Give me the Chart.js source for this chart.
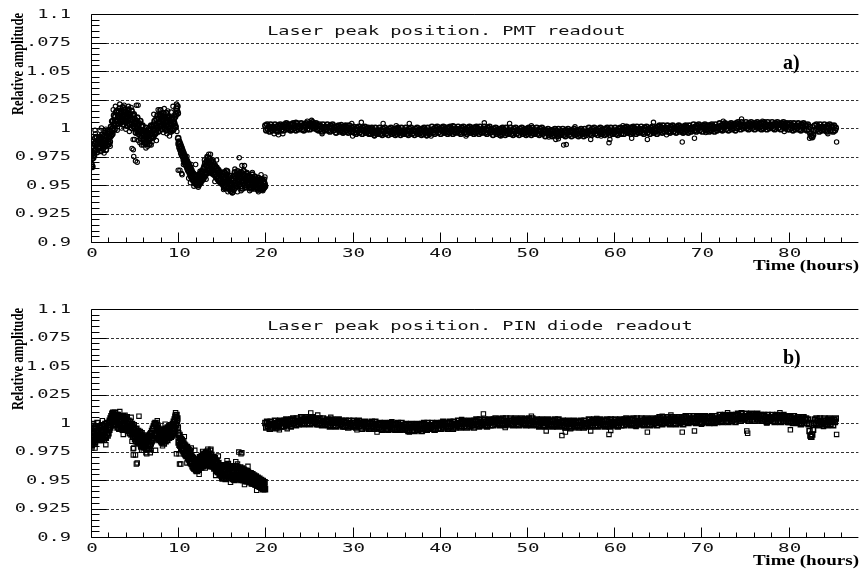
<!DOCTYPE html>
<html>
<head>
<meta charset="utf-8">
<script src="https://cdn.jsdelivr.net/npm/chart.js@4.4.1/dist/chart.umd.min.js"></script>
<style>
html, body { margin: 0; padding: 0; background: #fff; overflow: hidden; }
#wrap { width: 861px; height: 576px; overflow: hidden; }
canvas { display: block; }
</style>
</head>
<body>
<div id="wrap">
  <canvas id="pmtCanvas" width="864" height="290"></canvas>
  <canvas id="pinCanvas" width="864" height="286"></canvas>
</div>
<script>
// measurement times (hours) of the first run, shared by both readouts
const earlyTime = [
  0,0.05,0.1,0.15,0.2,0.25,0.3,0.35,0.4,0.45,0.5,0.55,0.6,0.65,0.7,0.75,0.8,0.85,0.9,0.95,
  1,1.05,1.1,1.15,1.2,1.25,1.3,1.35,1.4,1.45,1.5,1.55,1.6,1.65,1.7,1.75,1.8,1.85,1.9,1.95,
  2,2.05,2.1,2.15,2.2,2.25,2.3,2.35,2.4,2.45,2.5,2.55,2.6,2.65,2.7,2.75,2.8,2.85,2.9,2.95,
  3,3.05,3.1,3.15,3.2,3.25,3.3,3.35,3.4,3.45,3.5,3.55,3.6,3.65,3.7,3.75,3.8,3.85,3.9,3.95,
  4,4.05,4.1,4.15,4.2,4.25,4.3,4.35,4.4,4.45,4.5,4.55,4.6,4.65,4.7,4.75,4.8,4.85,4.9,4.95,
  5,5.05,5.1,5.15,5.2,5.25,5.3,5.35,5.4,5.45,5.5,5.55,5.6,5.65,5.7,5.75,5.8,5.85,5.9,5.95,
  6,6.05,6.1,6.15,6.2,6.25,6.3,6.35,6.4,6.45,6.5,6.55,6.6,6.65,6.7,6.75,6.8,6.85,6.9,6.95,
  7,7.05,7.1,7.15,7.2,7.25,7.3,7.35,7.4,7.45,7.5,7.55,7.6,7.65,7.7,7.75,7.8,7.85,7.9,7.95,
  8,8.05,8.1,8.15,8.2,8.25,8.3,8.35,8.4,8.45,8.5,8.55,8.6,8.65,8.7,8.75,8.8,8.85,8.9,8.95,
  9,9.05,9.1,9.15,9.2,9.25,9.3,9.35,9.4,9.45,9.5,9.55,9.6,9.65,9.7,9.75,9.8,9.85,9.9,9.95,
  10,10.05,10.1,10.15,10.2,10.25,10.3,10.35,10.4,10.45,10.5,10.55,10.6,10.65,10.7,10.75,10.8,10.85,10.9,10.95,
  11,11.05,11.1,11.15,11.2,11.25,11.3,11.35,11.4,11.45,11.5,11.55,11.6,11.65,11.7,11.75,11.8,11.85,11.9,11.95,
  12,12.05,12.1,12.15,12.2,12.25,12.3,12.35,12.4,12.45,12.5,12.55,12.6,12.65,12.7,12.75,12.8,12.85,12.9,12.95,
  13,13.05,13.1,13.15,13.2,13.25,13.3,13.35,13.4,13.45,13.5,13.55,13.6,13.65,13.7,13.75,13.8,13.85,13.9,13.95,
  14,14.05,14.1,14.15,14.2,14.25,14.3,14.35,14.4,14.45,14.5,14.55,14.6,14.65,14.7,14.75,14.8,14.85,14.9,14.95,
  15,15.05,15.1,15.15,15.2,15.25,15.3,15.35,15.4,15.45,15.5,15.55,15.6,15.65,15.7,15.75,15.8,15.85,15.9,15.95,
  16,16.05,16.1,16.15,16.2,16.25,16.3,16.35,16.4,16.45,16.5,16.55,16.6,16.65,16.7,16.75,16.8,16.85,16.9,16.95,
  17,17.05,17.1,17.15,17.2,17.25,17.3,17.35,17.4,17.45,17.5,17.55,17.6,17.65,17.7,17.75,17.8,17.85,17.9,17.95,
  18,18.05,18.1,18.15,18.2,18.25,18.3,18.35,18.4,18.45,18.5,18.55,18.6,18.65,18.7,18.75,18.8,18.85,18.9,18.95,
  19,19.05,19.1,19.15,19.2,19.25,19.3,19.35,19.4,19.45,19.5,19.55,19.6,19.65,19.7,19.75,19.8,19.85,19.9,19.95
];

// measurement times (hours) of the second run
const lateTime = [
  20,20.1,20.2,20.3,20.4,20.5,20.6,20.7,20.8,20.9, 21,21.1,21.2,21.3,21.4,21.5,21.6,21.7,21.8,21.9,
  22,22.1,22.2,22.3,22.4,22.5,22.6,22.7,22.8,22.9, 23,23.1,23.2,23.3,23.4,23.5,23.6,23.7,23.8,23.9,
  24,24.1,24.2,24.3,24.4,24.5,24.6,24.7,24.8,24.9, 25,25.1,25.2,25.3,25.4,25.5,25.6,25.7,25.8,25.9,
  26,26.1,26.2,26.3,26.4,26.5,26.6,26.7,26.8,26.9, 27,27.1,27.2,27.3,27.4,27.5,27.6,27.7,27.8,27.9,
  28,28.1,28.2,28.3,28.4,28.5,28.6,28.7,28.8,28.9, 29,29.1,29.2,29.3,29.4,29.5,29.6,29.7,29.8,29.9,
  30,30.1,30.2,30.3,30.4,30.5,30.6,30.7,30.8,30.9, 31,31.1,31.2,31.3,31.4,31.5,31.6,31.7,31.8,31.9,
  32,32.1,32.2,32.3,32.4,32.5,32.6,32.7,32.8,32.9, 33,33.1,33.2,33.3,33.4,33.5,33.6,33.7,33.8,33.9,
  34,34.1,34.2,34.3,34.4,34.5,34.6,34.7,34.8,34.9, 35,35.1,35.2,35.3,35.4,35.5,35.6,35.7,35.8,35.9,
  36,36.1,36.2,36.3,36.4,36.5,36.6,36.7,36.8,36.9, 37,37.1,37.2,37.3,37.4,37.5,37.6,37.7,37.8,37.9,
  38,38.1,38.2,38.3,38.4,38.5,38.6,38.7,38.8,38.9, 39,39.1,39.2,39.3,39.4,39.5,39.6,39.7,39.8,39.9,
  40,40.1,40.2,40.3,40.4,40.5,40.6,40.7,40.8,40.9, 41,41.1,41.2,41.3,41.4,41.5,41.6,41.7,41.8,41.9,
  42,42.1,42.2,42.3,42.4,42.5,42.6,42.7,42.8,42.9, 43,43.1,43.2,43.3,43.4,43.5,43.6,43.7,43.8,43.9,
  44,44.1,44.2,44.3,44.4,44.5,44.6,44.7,44.8,44.9, 45,45.1,45.2,45.3,45.4,45.5,45.6,45.7,45.8,45.9,
  46,46.1,46.2,46.3,46.4,46.5,46.6,46.7,46.8,46.9, 47,47.1,47.2,47.3,47.4,47.5,47.6,47.7,47.8,47.9,
  48,48.1,48.2,48.3,48.4,48.5,48.6,48.7,48.8,48.9, 49,49.1,49.2,49.3,49.4,49.5,49.6,49.7,49.8,49.9,
  50,50.1,50.2,50.3,50.4,50.5,50.6,50.7,50.8,50.9, 51,51.1,51.2,51.3,51.4,51.5,51.6,51.7,51.8,51.9,
  52,52.1,52.2,52.3,52.4,52.5,52.6,52.7,52.8,52.9, 53,53.1,53.2,53.3,53.4,53.5,53.6,53.7,53.8,53.9,
  54,54.1,54.2,54.3,54.4,54.5,54.6,54.7,54.8,54.9, 55,55.1,55.2,55.3,55.4,55.5,55.6,55.7,55.8,55.9,
  56,56.1,56.2,56.3,56.4,56.5,56.6,56.7,56.8,56.9, 57,57.1,57.2,57.3,57.4,57.5,57.6,57.7,57.8,57.9,
  58,58.1,58.2,58.3,58.4,58.5,58.6,58.7,58.8,58.9, 59,59.1,59.2,59.3,59.4,59.5,59.6,59.7,59.8,59.9,
  60,60.1,60.2,60.3,60.4,60.5,60.6,60.7,60.8,60.9, 61,61.1,61.2,61.3,61.4,61.5,61.6,61.7,61.8,61.9,
  62,62.1,62.2,62.3,62.4,62.5,62.6,62.7,62.8,62.9, 63,63.1,63.2,63.3,63.4,63.5,63.6,63.7,63.8,63.9,
  64,64.1,64.2,64.3,64.4,64.5,64.6,64.7,64.8,64.9, 65,65.1,65.2,65.3,65.4,65.5,65.6,65.7,65.8,65.9,
  66,66.1,66.2,66.3,66.4,66.5,66.6,66.7,66.8,66.9, 67,67.1,67.2,67.3,67.4,67.5,67.6,67.7,67.8,67.9,
  68,68.1,68.2,68.3,68.4,68.5,68.6,68.7,68.8,68.9, 69,69.1,69.2,69.3,69.4,69.5,69.6,69.7,69.8,69.9,
  70,70.1,70.2,70.3,70.4,70.5,70.6,70.7,70.8,70.9, 71,71.1,71.2,71.3,71.4,71.5,71.6,71.7,71.8,71.9,
  72,72.1,72.2,72.3,72.4,72.5,72.6,72.7,72.8,72.9, 73,73.1,73.2,73.3,73.4,73.5,73.6,73.7,73.8,73.9,
  74,74.1,74.2,74.3,74.4,74.5,74.6,74.7,74.8,74.9, 75,75.1,75.2,75.3,75.4,75.5,75.6,75.7,75.8,75.9,
  76,76.1,76.2,76.3,76.4,76.5,76.6,76.7,76.8,76.9, 77,77.1,77.2,77.3,77.4,77.5,77.6,77.7,77.8,77.9,
  78,78.1,78.2,78.3,78.4,78.5,78.6,78.7,78.8,78.9, 79,79.1,79.2,79.3,79.4,79.5,79.6,79.7,79.8,79.9,
  80,80.1,80.2,80.3,80.4,80.5,80.6,80.7,80.8,80.9, 81,81.1,81.2,81.3,81.4,81.5,81.6,81.7,81.8,81.9,
  82,82.1,82.2,82.3,82.4,82.5,82.6,82.7,82.8,82.9, 83,83.1,83.2,83.3,83.4,83.5,83.6,83.7,83.8,83.9,
  84,84.1,84.2,84.3,84.4,84.5,84.6,84.7,84.8,84.9, 85,85.1,85.2,85.3,85.4
];

// a) PMT readout, relative amplitude
const pmtEarly = [
  0.975,0.968,0.973,0.966,0.978,0.974,0.984,0.976,0.986,0.980, 0.991,0.981,0.987,0.992,0.979,0.986,0.989,0.982,0.990,0.984,
  0.992,0.983,0.988,0.980,0.991,0.986,0.994,0.982,0.989,0.985, 0.993,0.987,0.984,0.996,0.981,0.990,0.993,0.985,0.997,0.988,
  0.995,0.986,0.992,0.988,0.997,0.993,1.001,0.994,0.999,0.995, 1.006,1.000,1.003,1.011,0.999,1.006,1.010,1.003,1.014,1.006,
  1.015,1.006,1.011,1.004,1.014,1.009,1.017,1.006,1.012,1.005, 1.015,1.010,1.008,1.018,1.003,1.011,1.014,1.006,1.016,1.008,
  1.014,1.006,1.010,1.002,1.013,1.008,1.016,1.004,1.011,1.003, 1.012,1.007,1.005,1.015,1.000,1.008,1.011,1.002,1.012,1.004,
  1.008,1.000,1.004,0.996,1.006,1.002,1.009,0.997,1.003,0.995, 1.004,0.999,0.997,1.006,0.991,0.998,1.001,0.993,1.002,0.995,
  0.998,0.990,0.995,0.987,0.997,0.993,1.000,0.988,0.994,0.986, 0.996,0.991,0.989,0.999,0.986,0.994,0.998,0.991,1.002,0.995,
  1.001,0.993,0.999,0.992,1.003,0.998,1.006,0.995,1.002,0.996, 1.008,1.002,1.000,1.011,0.997,1.005,1.008,1.001,1.012,1.004,
  1.011,1.002,1.007,0.999,1.010,1.006,1.013,1.001,1.008,1.000, 1.010,1.005,1.003,1.013,0.998,1.006,1.009,1.001,1.010,1.003,
  1.007,0.999,1.004,0.997,1.008,1.003,1.009,0.998,1.005,0.999, 1.008,1.004,1.002,1.010,1.001,1.012,1.017,1.015,1.019,1.013,
  0.991,0.986,0.988,0.983,0.986,0.981,0.984,0.978,0.982,0.976, 0.980,0.975,0.978,0.972,0.976,0.970,0.974,0.968,0.972,0.967,
  0.971,0.965,0.969,0.963,0.968,0.962,0.966,0.960,0.965,0.958, 0.963,0.957,0.961,0.955,0.960,0.954,0.959,0.953,0.958,0.952,
  0.957,0.951,0.955,0.950,0.958,0.952,0.956,0.950,0.959,0.953, 0.957,0.952,0.960,0.954,0.962,0.956,0.961,0.955,0.964,0.957,
  0.966,0.959,0.969,0.961,0.967,0.960,0.971,0.963,0.974,0.965, 0.970,0.962,0.973,0.964,0.968,0.961,0.971,0.963,0.967,0.960,
  0.969,0.961,0.966,0.959,0.967,0.960,0.964,0.957,0.965,0.958, 0.962,0.955,0.963,0.956,0.960,0.953,0.961,0.955,0.959,0.952,
  0.958,0.951,0.960,0.952,0.957,0.949,0.961,0.953,0.956,0.948, 0.959,0.951,0.962,0.954,0.957,0.947,0.955,0.949,0.958,0.950,
  0.952,0.945,0.955,0.947,0.950,0.944,0.954,0.946,0.958,0.950, 0.961,0.952,0.956,0.949,0.959,0.951,0.962,0.953,0.957,0.950,
  0.960,0.951,0.957,0.949,0.961,0.953,0.956,0.947,0.959,0.952, 0.962,0.954,0.958,0.950,0.955,0.948,0.960,0.952,0.957,0.951,
  0.958,0.950,0.955,0.948,0.957,0.951,0.954,0.947,0.956,0.950, 0.959,0.952,0.955,0.949,0.953,0.947,0.957,0.951,0.954,0.948,
  0.955,0.948,0.953,0.946,0.956,0.950,0.952,0.947,0.954,0.949, 0.951,0.946,0.955,0.949,0.952,0.947,0.953,0.948,0.951,0.949
];
const pmtLate = [
  1.002,0.998,1.003,0.999,1.001,0.997,1.003,1.000,0.998,1.001, 0.999,1.003,0.998,1.001,0.997,1.002,1.000,1.003,0.998,1.001,
  1.002,0.998,1.003,1.001,1.004,0.999,1.002,1.000,1.003,0.998, 1.003,0.999,1.004,1.000,1.002,0.998,1.004,1.001,0.999,1.002,
  1.000,1.004,0.999,1.002,0.998,1.003,1.001,1.004,0.999,1.002, 1.003,0.999,1.004,1.002,1.005,1.000,1.003,1.001,1.004,0.999,
  1.002,0.998,1.003,0.999,1.001,0.997,1.003,1.000,0.998,1.001, 0.999,1.003,0.998,1.001,0.997,1.002,1.000,1.003,0.998,1.001,
  1.000,0.996,1.001,0.999,1.002,0.997,1.000,0.998,1.001,0.996, 1.001,0.997,1.002,0.998,1.000,0.996,1.002,0.999,0.997,1.000,
  0.997,1.001,0.996,0.999,0.995,1.000,0.998,1.001,0.996,0.999, 0.999,0.995,1.000,0.998,1.001,0.996,0.999,0.997,1.000,0.995,
  0.999,0.995,1.000,0.996,0.998,0.994,1.000,0.997,0.995,0.998, 0.996,1.000,0.995,0.998,0.994,0.999,0.997,1.000,0.995,0.998,
  0.998,0.994,0.999,0.997,1.000,0.995,0.998,0.996,0.999,0.994, 0.999,0.995,1.000,0.996,0.998,0.994,1.000,0.997,0.995,0.998,
  0.996,1.000,0.995,0.998,0.994,0.999,0.997,1.000,0.995,0.998, 0.998,0.994,0.999,0.997,1.000,0.995,0.998,0.996,0.999,0.994,
  0.999,0.995,1.000,0.996,0.998,0.994,1.000,0.997,0.995,0.998, 0.997,1.001,0.996,0.999,0.995,1.000,0.998,1.001,0.996,0.999,
  0.999,0.995,1.000,0.998,1.001,0.996,0.999,0.997,1.000,0.995, 1.000,0.996,1.001,0.997,0.999,0.995,1.001,0.998,0.996,0.999,
  0.997,1.001,0.996,0.999,0.995,1.000,0.998,1.001,0.996,0.999, 0.999,0.995,1.000,0.998,1.001,0.996,0.999,0.997,1.000,0.995,
  1.000,0.996,1.001,0.997,0.999,0.995,1.001,0.998,0.996,0.999, 0.997,1.001,0.996,0.999,0.995,1.000,0.998,1.001,0.996,0.999,
  0.998,0.994,0.999,0.997,1.000,0.995,0.998,0.996,0.999,0.994, 0.999,0.995,1.000,0.996,0.998,0.994,1.000,0.997,0.995,0.998,
  0.996,1.000,0.995,0.998,0.994,0.999,0.997,1.000,0.995,0.998, 0.998,0.994,0.999,0.997,1.000,0.995,0.998,0.996,0.999,0.994,
  0.999,0.995,1.000,0.996,0.998,0.994,1.000,0.997,0.995,0.998, 0.996,1.000,0.995,0.998,0.994,0.999,0.997,1.000,0.995,0.998,
  0.997,0.993,0.998,0.996,0.999,0.994,0.997,0.995,0.998,0.993, 0.998,0.994,0.999,0.995,0.997,0.993,0.999,0.996,0.994,0.997,
  0.995,0.999,0.994,0.997,0.993,0.998,0.996,0.999,0.994,0.997, 0.997,0.993,0.998,0.996,0.999,0.994,0.997,0.995,0.998,0.993,
  0.998,0.994,0.999,0.995,0.997,0.993,0.999,0.996,0.994,0.997, 0.996,1.000,0.995,0.998,0.994,0.999,0.997,1.000,0.995,0.998,
  0.998,0.994,0.999,0.997,1.000,0.995,0.998,0.996,0.999,0.994, 0.999,0.995,1.000,0.996,0.998,0.994,1.000,0.997,0.995,0.998,
  0.996,1.000,0.995,0.998,0.994,0.999,0.997,1.000,0.995,0.998, 0.999,0.995,1.000,0.998,1.001,0.996,0.999,0.997,1.000,0.995,
  1.000,0.996,1.001,0.997,0.999,0.995,1.001,0.998,0.996,0.999, 0.997,1.001,0.996,0.999,0.995,1.000,0.998,1.001,0.996,0.999,
  0.999,0.995,1.000,0.998,1.001,0.996,0.999,0.997,1.000,0.995, 1.001,0.997,1.002,0.998,1.000,0.996,1.002,0.999,0.997,1.000,
  0.998,1.002,0.997,1.000,0.996,1.001,0.999,1.002,0.997,1.000, 1.000,0.996,1.001,0.999,1.002,0.997,1.000,0.998,1.001,0.996,
  1.001,0.997,1.002,0.998,1.000,0.996,1.002,0.999,0.997,1.000, 0.999,1.003,0.998,1.001,0.997,1.002,1.000,1.003,0.998,1.001,
  1.001,0.997,1.002,1.000,1.003,0.998,1.001,0.999,1.002,0.997, 1.002,0.998,1.003,0.999,1.001,0.997,1.003,1.000,0.998,1.001,
  1.000,1.004,0.999,1.002,0.998,1.003,1.001,1.004,0.999,1.002, 1.002,0.998,1.003,1.001,1.004,0.999,1.002,1.000,1.003,0.998,
  1.004,1.000,1.005,1.001,1.003,0.999,1.005,1.002,1.000,1.003, 1.001,1.005,1.000,1.003,0.999,1.004,1.002,1.005,1.000,1.003,
  1.003,0.999,1.004,1.002,1.005,1.000,1.003,1.001,1.004,0.999, 1.004,1.000,1.005,1.001,1.003,0.999,1.005,1.002,1.000,1.003,
  1.001,1.005,1.000,1.003,0.999,1.004,1.002,1.005,1.000,1.003, 1.003,0.999,1.004,1.002,1.005,1.000,1.003,1.001,1.004,0.999,
  1.003,0.999,1.004,1.000,1.002,0.998,1.004,1.001,0.999,1.002, 1.000,1.004,0.999,1.002,0.998,1.003,1.001,1.004,0.999,1.002,
  1.002,0.998,1.003,0.999,1.001,0.995,0.993,0.992,0.994,0.998, 1.002,0.998,1.003,0.999,1.001,0.997,1.003,1.000,0.998,1.001,
  0.999,1.003,0.998,1.001,0.997,1.002,1.000,1.003,0.998,1.001, 1.001,0.997,1.002,0.998,1.000
];

// b) PIN diode readout, relative amplitude
const pinEarly = [
  0.985,0.996,0.981,0.993,0.988,0.999,0.984,0.991,0.995,0.983, 0.990,0.997,0.986,0.993,0.989,1.000,0.985,0.994,0.988,0.996,
  0.987,0.996,0.985,0.993,0.990,0.998,0.986,0.994,0.989,0.997, 0.985,0.992,0.988,0.999,0.987,0.995,0.991,1.000,0.989,0.996,
  0.991,1.000,0.994,1.002,0.996,1.004,0.998,1.006,1.001,1.008, 1.003,1.009,0.999,1.007,1.002,1.009,0.998,1.006,1.001,1.007,
  1.004,0.996,1.007,0.998,1.005,0.995,1.006,0.999,1.003,0.995, 1.005,0.997,1.002,0.994,1.006,0.998,1.003,0.995,1.004,0.996,
  1.003,0.995,1.005,0.996,1.001,0.993,1.002,0.994,0.999,0.991, 1.001,0.993,0.997,0.990,0.999,0.991,0.996,0.988,0.998,0.990,
  0.994,0.986,0.992,0.984,0.995,0.987,0.991,0.983,0.993,0.985, 0.990,0.982,0.992,0.984,0.989,0.981,0.991,0.983,0.988,0.980,
  0.987,0.979,0.989,0.981,0.986,0.978,0.988,0.980,0.985,0.977, 0.987,0.980,0.984,0.977,0.988,0.981,0.990,0.982,0.991,0.984,
  0.993,0.985,0.995,0.987,0.997,0.989,0.999,0.990,1.000,0.991, 0.998,0.989,0.996,0.987,0.995,0.986,0.993,0.985,0.994,0.986,
  0.992,0.984,0.991,0.983,0.993,0.985,0.990,0.982,0.994,0.986, 0.992,0.984,0.995,0.987,0.993,0.985,0.996,0.988,0.994,0.987,
  0.997,0.989,0.995,0.988,0.998,0.990,0.996,0.989,0.999,0.991, 1.001,0.993,1.003,0.995,1.005,0.998,1.007,1.002,1.004,0.996,
  0.991,0.983,0.989,0.981,0.987,0.980,0.986,0.978,0.985,0.977, 0.984,0.976,0.982,0.975,0.981,0.973,0.980,0.972,0.978,0.971,
  0.979,0.971,0.977,0.969,0.976,0.968,0.974,0.966,0.973,0.965, 0.971,0.964,0.970,0.962,0.969,0.961,0.968,0.960,0.967,0.960,
  0.966,0.959,0.965,0.958,0.967,0.960,0.966,0.959,0.968,0.961, 0.970,0.962,0.969,0.961,0.971,0.963,0.970,0.962,0.972,0.964,
  0.973,0.964,0.971,0.963,0.974,0.965,0.972,0.964,0.975,0.966, 0.971,0.963,0.973,0.965,0.970,0.962,0.972,0.964,0.969,0.962,
  0.970,0.962,0.968,0.960,0.969,0.961,0.966,0.958,0.967,0.959, 0.964,0.957,0.965,0.957,0.962,0.955,0.963,0.956,0.961,0.954,
  0.961,0.953,0.963,0.955,0.960,0.952,0.962,0.954,0.959,0.951, 0.963,0.955,0.961,0.953,0.964,0.956,0.960,0.952,0.962,0.954,
  0.960,0.952,0.962,0.954,0.959,0.951,0.961,0.953,0.958,0.950, 0.960,0.952,0.962,0.954,0.959,0.951,0.961,0.953,0.958,0.951,
  0.959,0.951,0.961,0.953,0.958,0.950,0.960,0.952,0.957,0.950, 0.959,0.951,0.958,0.950,0.956,0.949,0.958,0.951,0.956,0.949,
  0.957,0.950,0.956,0.949,0.955,0.948,0.956,0.949,0.954,0.947, 0.955,0.948,0.953,0.947,0.954,0.947,0.952,0.946,0.953,0.946,
  0.951,0.946,0.952,0.945,0.950,0.945,0.951,0.944,0.949,0.944, 0.950,0.943,0.948,0.943,0.949,0.942,0.947,0.943,0.948,0.942
];
const pinLate = [
  1.000,0.996,1.001,0.997,0.999,0.995,1.001,0.998,0.996,0.999, 0.998,1.002,0.997,1.000,0.996,1.001,0.999,1.002,0.997,1.000,
  1.001,0.997,1.002,1.000,1.003,0.998,1.001,0.999,1.002,0.997, 1.003,0.999,1.004,1.000,1.002,0.998,1.004,1.001,0.999,1.002,
  1.001,1.005,1.000,1.003,0.999,1.004,1.002,1.005,1.000,1.003, 1.003,0.999,1.004,1.002,1.005,1.000,1.003,1.001,1.004,0.999,
  1.003,0.999,1.004,1.000,1.002,0.998,1.004,1.001,0.999,1.002, 0.999,1.003,0.998,1.001,0.997,1.002,1.000,1.003,0.998,1.001,
  1.001,0.997,1.002,1.000,1.003,0.998,1.001,0.999,1.002,0.997, 1.001,0.997,1.002,0.998,1.000,0.996,1.002,0.999,0.997,1.000,
  0.998,1.002,0.997,1.000,0.996,1.001,0.999,1.002,0.997,1.000, 0.999,0.995,1.000,0.998,1.001,0.996,0.999,0.997,1.000,0.995,
  1.000,0.996,1.001,0.997,0.999,0.995,1.001,0.998,0.996,0.999, 0.996,1.000,0.995,0.998,0.994,0.999,0.997,1.000,0.995,0.998,
  0.998,0.994,0.999,0.997,1.000,0.995,0.998,0.996,0.999,0.994, 0.999,0.995,1.000,0.996,0.998,0.994,1.000,0.997,0.995,0.998,
  0.995,0.999,0.994,0.997,0.993,0.998,0.996,0.999,0.994,0.997, 0.997,0.993,0.998,0.996,0.999,0.994,0.997,0.995,0.998,0.993,
  0.999,0.995,1.000,0.996,0.998,0.994,1.000,0.997,0.995,0.998, 0.996,1.000,0.995,0.998,0.994,0.999,0.997,1.000,0.995,0.998,
  0.999,0.995,1.000,0.998,1.001,0.996,0.999,0.997,1.000,0.995, 1.000,0.996,1.001,0.997,0.999,0.995,1.001,0.998,0.996,0.999,
  0.998,1.002,0.997,1.000,0.996,1.001,0.999,1.002,0.997,1.000, 1.000,0.996,1.001,0.999,1.002,0.997,1.000,0.998,1.001,0.996,
  1.002,0.998,1.003,0.999,1.001,0.997,1.003,1.000,0.998,1.001, 0.999,1.003,0.998,1.001,0.997,1.002,1.000,1.003,0.998,1.001,
  1.002,0.998,1.003,1.001,1.004,0.999,1.002,1.000,1.003,0.998, 1.003,0.999,1.004,1.000,1.002,0.998,1.004,1.001,0.999,1.002,
  1.000,1.004,0.999,1.002,0.998,1.003,1.001,1.004,0.999,1.002, 1.002,0.998,1.003,1.001,1.004,0.999,1.002,1.000,1.003,0.998,
  1.003,0.999,1.004,1.000,1.002,0.998,1.004,1.001,0.999,1.002, 0.999,1.003,0.998,1.001,0.997,1.002,1.000,1.003,0.998,1.001,
  1.001,0.997,1.002,1.000,1.003,0.998,1.001,0.999,1.002,0.997, 1.002,0.998,1.003,0.999,1.001,0.997,1.003,1.000,0.998,1.001,
  0.998,1.002,0.997,1.000,0.996,1.001,0.999,1.002,0.997,1.000, 1.000,0.996,1.001,0.999,1.002,0.997,1.000,0.998,1.001,0.996,
  1.001,0.997,1.002,0.998,1.000,0.996,1.002,0.999,0.997,1.000, 0.999,1.003,0.998,1.001,0.997,1.002,1.000,1.003,0.998,1.001,
  1.001,0.997,1.002,1.000,1.003,0.998,1.001,0.999,1.002,0.997, 1.002,0.998,1.003,0.999,1.001,0.997,1.003,1.000,0.998,1.001,
  0.999,1.003,0.998,1.001,0.997,1.002,1.000,1.003,0.998,1.001, 1.002,0.998,1.003,1.001,1.004,0.999,1.002,1.000,1.003,0.998,
  1.003,0.999,1.004,1.000,1.002,0.998,1.004,1.001,0.999,1.002, 1.000,1.004,0.999,1.002,0.998,1.003,1.001,1.004,0.999,1.002,
  1.002,0.998,1.003,1.001,1.004,0.999,1.002,1.000,1.003,0.998, 1.004,1.000,1.005,1.001,1.003,0.999,1.005,1.002,1.000,1.003,
  1.001,1.005,1.000,1.003,0.999,1.004,1.002,1.005,1.000,1.003, 1.003,0.999,1.004,1.002,1.005,1.000,1.003,1.001,1.004,0.999,
  1.005,1.001,1.006,1.002,1.004,1.000,1.006,1.003,1.001,1.004, 1.002,1.006,1.001,1.004,1.000,1.005,1.003,1.006,1.001,1.004,
  1.004,1.000,1.005,1.003,1.006,1.001,1.004,1.002,1.005,1.000, 1.005,1.001,1.006,1.002,1.004,1.000,1.006,1.003,1.001,1.004,
  1.003,1.007,1.002,1.005,1.001,1.006,1.004,1.007,1.002,1.005, 1.005,1.001,1.006,1.004,1.007,1.002,1.005,1.003,1.006,1.001,
  1.007,1.003,1.008,1.004,1.006,1.002,1.008,1.005,1.003,1.006, 1.004,1.008,1.003,1.006,1.002,1.007,1.005,1.008,1.003,1.006,
  1.006,1.002,1.007,1.005,1.008,1.003,1.006,1.004,1.007,1.002, 1.006,1.002,1.007,1.003,1.005,1.001,1.007,1.004,1.002,1.005,
  1.003,1.007,1.002,1.005,1.001,1.006,1.004,1.007,1.002,1.005, 1.005,1.001,1.006,1.004,1.007,1.002,1.005,1.003,1.006,1.001,
  1.005,1.001,1.006,1.002,1.004,1.000,1.006,1.003,1.001,1.004, 1.001,1.005,1.000,1.003,0.999,1.004,1.002,1.005,1.000,1.003,
  1.004,1.000,1.003,0.999,0.993,0.989,0.988,0.990,0.994,1.000, 1.003,0.999,1.004,1.000,1.002,0.998,1.004,1.001,0.999,1.002,
  1.000,1.004,0.999,1.002,0.998,1.003,1.001,1.004,0.999,1.002, 1.002,0.998,1.003,1.001,1.004
];

// isolated readings off / at the edge of the main band
const pmtStrayTime = [
  0.05,4.7,4.9,5.1,5.3,5.4,5.6,6.0,8.0,9.8,10.2,10.4,13.5,15.2,16.8,17.0,17.3,17.9,19.9,
  0.46,1.03,2.36,2.55,4.83,4.85,5.2,5.4,5.8,6.3,6.9,7.5,7.9,8.1,9.4,9.85,10.0,10.45,11.4,12.0,13.3,13.7,14.4,15.3,17.6,19.95,
  0.5,1.2,1.7,2.8,3.3,3.8,4.3,4.6,7.2,7.7,8.4,8.8,9.2,11.0,11.5,12.5,13.0,14.0,15.5,16.5,17.5,18.5,19.5,
  1.5,2.2,3.0,3.5,4.0,4.4,5.0,6.5,7.0,8.3,8.7,9.0,10.6,11.2,11.8,12.3,13.2,14.2,15.7,16.2,17.2,18.2,19.2,19.7,
  21.5,22.0,24.8,25.3,29.9,30.0,31.0,33.5,36.5,39.0,45.1,48.0,53.3,53.6,54.2,54.5,57.3,59.4,59.5,62.0,63.8,64.5,67.8,69.2,74.6,82.4,85.5,
  21.0,23.5,26.5,28.7,32.5,35.0,38.5,41.5,43.0,47.0,50.5,52.5,55.5,58.5,61.0,66.0,70.5,72.5,77.0,79.5,84.5
];
const pmtStrayAmp = [
  0.966,0.982,0.975,0.971,0.970,1.020,0.987,0.985,1.016,1.021,0.963,0.960,0.977,0.946,0.944,0.974,0.967,0.961,0.955,
  0.998,0.998,1.006,1.016,0.990,0.981,1.020,0.989,0.985,0.9825,0.985,0.989,1.016,1.013,1.019,0.997,0.963,0.959,0.952,0.968,0.975,0.977,0.972,0.947,0.967,0.957,
  0.995,1.000,0.999,1.019,1.021,1.020,1.019,1.018,1.012,1.016,1.017,1.015,1.014,0.975,0.968,0.962,0.972,0.972,0.963,0.964,0.963,0.961,0.959,
  0.978,0.984,0.998,1.000,0.999,0.997,0.990,0.984,0.988,0.996,0.995,0.993,0.968,0.956,0.949,0.948,0.955,0.953,0.944,0.943,0.945,0.945,0.944,0.945,
  0.994,0.995,1.006,1.0067,1.004,0.993,1.005,1.004,1.004,0.993,1.0045,1.004,0.990,0.9905,0.985,0.9855,0.990,0.987,0.990,0.991,0.990,1.005,0.9877,0.991,1.008,0.991,0.9877,
  0.995,1.005,0.995,1.003,0.993,1.002,0.993,1.002,0.993,0.993,1.002,0.992,1.001,0.993,1.002,0.994,0.996,1.006,1.006,0.997,0.995
];
const pinStrayTime = [
  0.1,0.15,2.4,4.9,5.1,5.3,5.8,6.3,6.8,9.7,9.75,10.1,10.3,12.0,13.7,15.0,17.2,17.3,
  0.46,0.5,2.55,3.9,4.83,4.85,5.2,5.5,5.7,6.0,6.8,7.4,7.7,9.65,10.2,9.8,10.15,11.9,13.1,13.75,15.1,16.95,16.8,18.5,
  1.3,3.3,4.6,7.6,8.5,10.7,11.5,12.8,13.4,14.6,15.6,16.6,18.0,
  1.7,3.7,4.7,6.4,8.2,11.0,12.4,14.3,16.0,17.6,19.0,
  21.2,21.6,25.2,26.0,32.8,36.5,45.0,52.2,54.0,54.4,57.3,59.4,59.6,63.8,65.5,67.8,69.2,74.6,75.2,75.3,80.2,85.5,
  22.5,27.5,30.5,34.5,38.0,42.5,47.5,50.5,55.0,58.0,62.5,66.5,70.0,73.0,77.5,79.0,84.0
];
const pinStrayAmp = [
  0.978,0.980,1.004,0.978,0.972,0.965,0.976,0.974,0.979,1.009,1.007,0.973,0.964,0.958,0.976,0.951,0.973,0.974,
  0.978,0.983,1.0088,1.0068,0.9775,0.972,0.964,1.006,0.979,0.976,0.974,0.976,0.998,1.0068,0.990,0.973,0.964,0.976,0.9605,0.977,0.951,0.9745,0.964,0.947,
  1.002,1.010,1.005,1.002,0.999,0.988,0.978,0.975,0.977,0.971,0.967,0.966,0.962,
  0.981,0.990,0.984,0.973,0.980,0.965,0.955,0.954,0.948,0.946,0.941,
  0.995,0.994,1.0088,1.007,0.992,0.992,1.008,0.993,0.989,0.992,0.993,0.990,0.9935,0.992,1.006,0.992,0.993,1.009,0.993,0.991,0.994,0.990,
  0.995,1.005,0.994,1.001,0.993,1.003,0.996,1.006,0.995,1.004,0.997,1.007,0.999,1.009,1.000,1.009,0.997
];

// axis decorations
const xMajorTicks = [0,10,20,30,40,50,60,70,80];
const xMinorTicks = [2,4,6,8,12,14,16,18,22,24,26,28,32,34,36,38,42,44,46,48,52,54,56,58,62,64,66,68,72,74,76,78,82,84,86];
const yMajorTicks = [0.9,0.925,0.95,0.975,1,1.025,1.05,1.075,1.1];
const yTickLabels = ['0.9','0.925','0.95','0.975','1','.025','1.05','.075','1.1'];

const MONO = '"DejaVu Sans Mono", monospace';
const SERIF = '"Liberation Serif", "Times New Roman", serif';

function wideText(ctx, text, x, y, align, size, sx) {
  ctx.save();
  ctx.font = size + 'px ' + MONO;
  ctx.fillStyle = '#111';
  ctx.textBaseline = 'middle';
  ctx.textAlign = align;
  ctx.translate(x, y);
  ctx.scale(sx, 1);
  ctx.fillText(text, 0, 0);
  ctx.restore();
}

// bold serif text squeezed or stretched to a given width
function fitText(ctx, text, size, width) {
  ctx.font = 'bold ' + size + 'px ' + SERIF;
  const w = ctx.measureText(text).width;
  ctx.scale(width / w, 1);
  ctx.fillText(text, 0, 0);
}

const rootFrame = {
  id: 'rootFrame',
  beforeDatasetsDraw(chart) {
    const { ctx, chartArea: a, scales: { y } } = chart;
    ctx.save();
    ctx.strokeStyle = '#333';
    ctx.lineWidth = 1;
    ctx.setLineDash([3, 2]);
    yMajorTicks.slice(1, -1).forEach(v => {
      const py = Math.round(y.getPixelForValue(v)) + 0.5;
      ctx.beginPath();
      ctx.moveTo(a.left, py);
      ctx.lineTo(a.right, py);
      ctx.stroke();
    });
    ctx.restore();
  },
  afterDraw(chart, args, opts) {
    const { ctx, chartArea: a, scales: { x, y } } = chart;
    const L = a.left + 0.5, B = Math.round(a.bottom) + 0.5, T = Math.round(a.top) + 0.5;
    ctx.save();
    ctx.strokeStyle = '#000';
    ctx.lineWidth = 1;
    ctx.beginPath();
    ctx.moveTo(a.right, T); ctx.lineTo(L, T); ctx.lineTo(L, B); ctx.lineTo(a.right, B);
    // x ticks, pointing up into the frame
    xMajorTicks.forEach(v => { const px = Math.round(x.getPixelForValue(v)) + 0.5; ctx.moveTo(px, B); ctx.lineTo(px, B - 10); });
    xMinorTicks.forEach(v => { const px = Math.round(x.getPixelForValue(v)) + 0.5; ctx.moveTo(px, B); ctx.lineTo(px, B - 5); });
    // y ticks, pointing right into the frame
    for (let i = 0; i < yMajorTicks.length; i++) {
      const py = Math.round(y.getPixelForValue(yMajorTicks[i])) + 0.5;
      ctx.moveTo(L, py); ctx.lineTo(L + 15, py);
      if (i < yMajorTicks.length - 1) {
        for (let k = 1; k < 5; k++) {
          const v = yMajorTicks[i] + (yMajorTicks[i + 1] - yMajorTicks[i]) * k / 5;
          const pm = Math.round(y.getPixelForValue(v)) + 0.5;
          ctx.moveTo(L, pm); ctx.lineTo(L + 8, pm);
        }
      }
    }
    ctx.stroke();
    ctx.restore();

    yMajorTicks.forEach((v, i) => wideText(ctx, yTickLabels[i], a.left - 20, y.getPixelForValue(v) + 0.5, 'right', 12, 1.56));
    xMajorTicks.forEach(v => wideText(ctx, String(v), x.getPixelForValue(v) + 1, a.bottom + 12, 'center', 12, 1.6));
    wideText(ctx, opts.caption, x.getPixelForValue(20.2), a.top + 18, 'left', 12, 1.55);

    ctx.save();
    ctx.fillStyle = '#000';
    ctx.textBaseline = 'alphabetic';
    ctx.font = 'bold 20px ' + SERIF;
    ctx.fillText(opts.tag, 783, a.top + 55);
    ctx.restore();

    ctx.save();
    ctx.fillStyle = '#000';
    ctx.textBaseline = 'alphabetic';
    ctx.textAlign = 'right';
    ctx.translate(859, a.bottom + 28);
    fitText(ctx, 'Time (hours)', 15, 106);
    ctx.restore();

    ctx.save();
    ctx.fillStyle = '#000';
    ctx.textBaseline = 'alphabetic';
    ctx.textAlign = 'center';
    ctx.translate(23, a.top + 50);
    ctx.rotate(-Math.PI / 2);
    fitText(ctx, 'Relative amplitude', 17, 102);
    ctx.restore();
  }
};

function makePanel(canvasId, early, late, strayTime, strayAmp, style, radius, caption, tag, padTop, padBottom) {
  const band = earlyTime.map((t, i) => ({ x: t, y: early[i] }))
    .concat(lateTime.map((t, i) => ({ x: t, y: late[i] })));
  const stray = strayTime.map((t, i) => ({ x: t, y: strayAmp[i] }));
  const common = {
    pointStyle: style,
    pointBorderColor: '#000',
    pointBackgroundColor: 'rgba(0,0,0,0)',
    showLine: false
  };
  return new Chart(document.getElementById(canvasId), {
    type: 'scatter',
    data: {
      datasets: [
        { data: band, pointRadius: radius + 0.4, pointBorderWidth: 1.6, ...common },
        { data: stray, pointRadius: radius, pointBorderWidth: 1.1, ...common }
      ]
    },
    options: {
      responsive: false,
      animation: false,
      devicePixelRatio: 1,
      layout: { padding: { left: 91, right: 1, top: padTop, bottom: padBottom } },
      plugins: { legend: { display: false }, tooltip: { enabled: false }, rootFrame: { caption, tag } },
      scales: {
        x: {
          type: 'linear', min: 0, max: 88,
          ticks: { display: false }, grid: { display: false }, border: { display: false },
          afterFit: s => { s.height = 0; }
        },
        y: {
          min: 0.9, max: 1.1,
          ticks: { display: false }, grid: { display: false }, border: { display: false },
          afterFit: s => { s.width = 0; }
        }
      }
    },
    plugins: [rootFrame]
  });
}

makePanel('pmtCanvas', pmtEarly, pmtLate, pmtStrayTime, pmtStrayAmp, 'circle', 2.2, 'Laser peak position. PMT readout', 'a)', 14, 48);
makePanel('pinCanvas', pinEarly, pinLate, pinStrayTime, pinStrayAmp, 'rect', 3.1, 'Laser peak position. PIN diode readout', 'b)', 19, 39);
</script>
</body>
</html>
